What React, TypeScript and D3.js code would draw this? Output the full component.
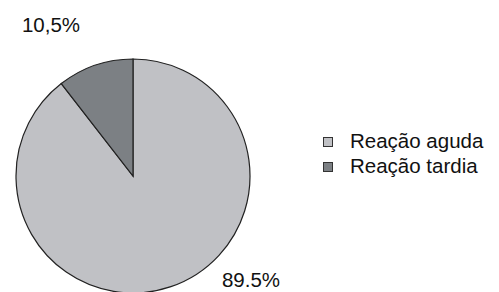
import * as d3 from "d3";

const categories = ["Reação aguda", "Reação tardia"];
const values = [89.5, 10.5];
const labels = ["89.5%", "10,5%"];
const colors = ["#c0c1c5", "#7c8084"];

const W = 499, H = 292;
const cx = 133, cy = 176, r = 117;

export default function App() {
  // tardia slice sits counter-clockwise from 12 o'clock
  const pie = d3.pie<number>().sort(null).startAngle(0).endAngle(2 * Math.PI);
  const arcs = pie(values);
  const arc = d3.arc<d3.PieArcDatum<number>>().innerRadius(0).outerRadius(r);

  const labelPos = [
    { x: 251, y: 287, anchor: "middle" },
    { x: 51, y: 32, anchor: "middle" },
  ];

  return (
    <svg width={W} height={H} style={{ position: "absolute", left: 0, top: 0, fontFamily: "'Liberation Sans', Arial, sans-serif" }}>
      <rect width={W} height={H} fill="#fff" />
      <g transform={`translate(${cx},${cy})`}>
        {arcs.map((a, i) => (
          <path key={i} d={arc(a) ?? ""} fill={colors[i]} stroke="#222" strokeWidth={1.2} />
        ))}
      </g>
      {labels.map((t, i) => (
        <text key={i} x={labelPos[i].x} y={labelPos[i].y} textAnchor={labelPos[i].anchor} fontSize={20.5} fill="#111">
          {t}
        </text>
      ))}
      <g transform="translate(323,137)">
        {categories.map((c, i) => (
          <g key={c} transform={`translate(0,${i * 25})`}>
            <rect x={0.5} y={0.5} width={9} height={9} fill={colors[i]} stroke="#333" strokeWidth={1} />
            <text x={27} y={10.5} fontSize={20.5} fill="#111">{c}</text>
          </g>
        ))}
      </g>
    </svg>
  );
}
